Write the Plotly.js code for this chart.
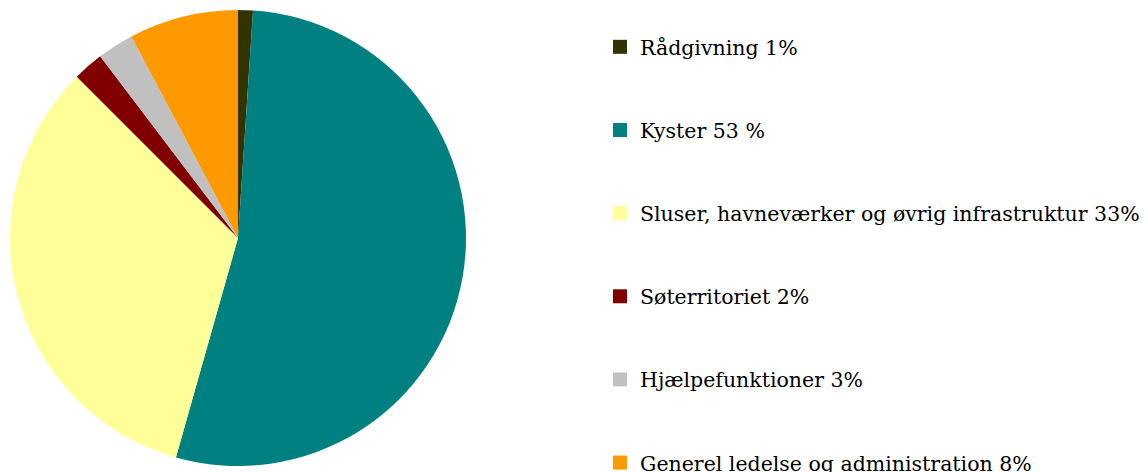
<!DOCTYPE html>
<html>
<head>
<meta charset="utf-8">
<script src="https://cdn.plot.ly/plotly-3.0.1.min.js"></script>
<style>html,body{margin:0;padding:0;background:#fff;}#chart{width:1145px;height:472px;}</style>
</head>
<body>
<div id="chart"></div>
<script>
const categories = ["Rådgivning", "Kyster", "Sluser, havneværker og øvrig infrastruktur", "Søterritoriet", "Hjælpefunktioner", "Generel ledelse og administration"];
const legendLabels = ["Rådgivning 1%", "Kyster 53 %", "Sluser, havneværker og øvrig infrastruktur 33%", "Søterritoriet 2%", "Hjælpefunktioner 3%", "Generel ledelse og administration 8%"];
const shares = [1.05, 53.34, 33.11, 2.17, 2.58, 7.75];
const colors = ["#333300", "#008080", "#FFFF99", "#800000", "#C0C0C0", "#FF9900"];

const W = 1145, H = 472;
const traces = [{
  type: "pie",
  labels: categories,
  values: shares,
  sort: false,
  direction: "clockwise",
  rotation: 0,
  textinfo: "none",
  hoverinfo: "label+percent",
  marker: {colors: colors, line: {width: 0}},
  showlegend: false,
  domain: {x: [10 / W, 466 / W], y: [6 / H, 462 / H]}
}];
legendLabels.forEach((lab, i) => {
  traces.push({
    type: "scatter", mode: "markers", x: [null], y: [null],
    name: lab, legendgroup: "g" + i, showlegend: true,
    marker: {symbol: "square", size: 14, color: colors[i], line: {width: 0}}
  });
});

const layout = {
  width: W, height: H,
  margin: {l: 0, r: 0, t: 0, b: 0, autoexpand: false},
  paper_bgcolor: "#fff", plot_bgcolor: "#fff",
  xaxis: {visible: false}, yaxis: {visible: false},
  showlegend: true,
  legend: {
    x: 600 / W, xanchor: "left", y: 1 - 27 / H, yanchor: "top",
    font: {family: "DejaVu Serif", size: 20.5, color: "#000"},
    tracegroupgap: 53.5, bgcolor: "rgba(0,0,0,0)", borderwidth: 0
  }
};
Plotly.newPlot("chart", traces, layout, {staticPlot: true, displayModeBar: false});
</script>
</body>
</html>
